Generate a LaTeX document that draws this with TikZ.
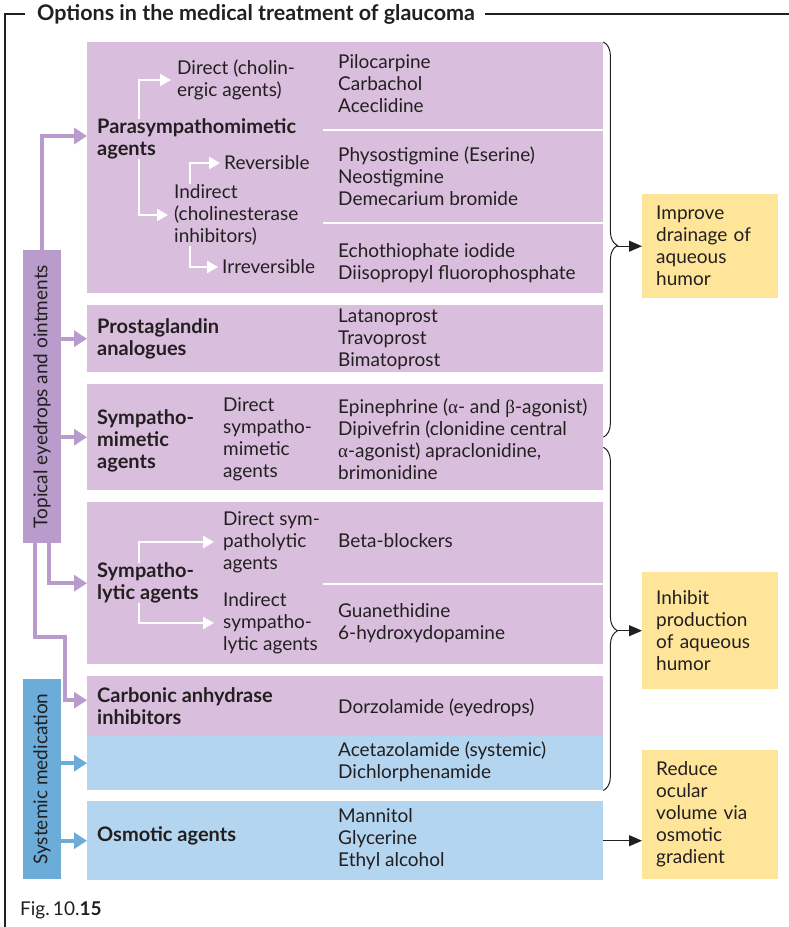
\documentclass[tikz,border=0pt]{standalone}
\usepackage{fontspec}
\setmainfont{Lato}
\newfontfamily\greekfont{Liberation Serif}
\usetikzlibrary{arrows.meta,positioning,decorations.pathreplacing}
\definecolor{glaulilac}{HTML}{D9BFDD}
\definecolor{glaupurple}{HTML}{B99BCC}
\definecolor{glausky}{HTML}{B3D5EF}
\definecolor{glaublue}{HTML}{6BADD8}
\definecolor{glauyellow}{HTML}{FEE59A}
\definecolor{glauink}{HTML}{231F20}
\newcommand{\bodyfont}{\fontsize{19}{22}\selectfont}
\tikzset{
  drugbox/.style={
    rectangle,
    fill=glaulilac,
    anchor=north west,
    inner sep=0pt,
    minimum width=516pt
  },
  sysbox/.style={drugbox, fill=glausky},
  sidebar/.style={rectangle, inner sep=0pt, minimum width=38pt},
  effectbox/.style={
    rectangle,
    fill=glauyellow,
    anchor=north west,
    inner xsep=14pt,
    text width=108pt,
    align=left
  },
  grouplabel/.style={anchor=west, align=left, inner sep=0pt, font=\fontsize{20}{22}\selectfont\bfseries},
  druglist/.style={anchor=west, align=left, inner sep=0pt},
  subarrow/.style={-{Triangle[length=11pt,width=12pt]}, color=white, line width=2.5pt},
  purplearrow/.style={-{Triangle[length=13pt,width=16pt]}, color=glaupurple, line width=4pt},
  bluearrow/.style={purplearrow, color=glaublue},
  effectarrow/.style={-{Triangle[length=13pt,width=11pt]}, color=glauink, line width=1pt},
  groupbrace/.style={decorate, decoration={brace, amplitude=14pt}, color=glauink, line width=1pt},
  sepline/.style={white, line width=2pt},
  framerule/.style={glauink, line width=1.2pt}
}

\begin{document}
\begin{tikzpicture}[x=1pt, y=-1pt, every node/.append style={font=\bodyfont, text=glauink}]
\useasboundingbox (0,0) rectangle (789,927);
% title and frame
\node[anchor=west, inner sep=0pt, font=\fontsize{21.5}{22}\selectfont\bfseries] (title) at (37,14) {Options in the medical treatment of glaucoma};
\draw[framerule] ([xshift=-12pt]title.west) -| (5,927);
\draw[framerule] ([xshift=10pt]title.east) -- (789,14);
\node[druglist, font=\fontsize{19}{22}\selectfont] (figlbl) at (20,910) {Fig.\,10.\textbf{15}};

% drug groups
\node[drugbox, minimum height=251pt] (para) at (87,42) {};
\node[drugbox, minimum height=67pt] (prost) at (87,305) {};
\node[drugbox, minimum height=106pt] (symm) at (87,384) {};
\node[drugbox, minimum height=162pt] (lytic) at (87,502) {};
\node[drugbox, minimum height=60pt] (carb) at (87,676) {};
\node[sysbox, minimum height=54pt] (acet) at (87,736) {};
\node[sysbox, minimum height=79pt] (osmo) at (87,801) {};
\draw[sepline] (323,130) -- (para.east |- 0,130);
\draw[sepline] (323,223) -- (para.east |- 0,223);
\draw[sepline] (323,584) -- (lytic.east |- 0,584);

% side bars
\node[sidebar, fill=glaupurple, minimum height=293pt] (topical) at (42,396.5) {};
\node[rotate=90] (topicaltxt) at (topical) {Topical eyedrops and ointments};
\node[sidebar, fill=glaublue, minimum height=200pt] (systemic) at (42,779) {};
\node[rotate=90] (systemictxt) at (systemic) {Systemic medication};

% parasympathomimetic agents
\node[grouplabel] (paralbl) at (97,139) {Parasympathomimetic\\agents};
\node[druglist] (direct) at (177,80) {Direct (cholin-\\ergic agents)};
\node[druglist] (indirect) at (174,215) {Indirect\\(cholinesterase\\inhibitors)};
\node[druglist] (rev) at (224,163) {Reversible};
\node[druglist] (irrev) at (222,267) {Irreversible};
\node[druglist] (pilo) at (338,84) {Pilocarpine\\Carbachol\\Aceclidine};
\node[druglist] (physo) at (338,176) {Physostigmine (Eserine)\\Neostigmine\\Demecarium bromide};
\node[druglist] (echo) at (338,263) {Echothiophate iodide\\Diisopropyl fluorophosphate};
\draw[subarrow] ([xshift=42pt]paralbl.north west) |- ([xshift=-6pt]direct.west);
\draw[subarrow] ([xshift=42pt]paralbl.south west) |- ([xshift=-6pt]indirect.west);
\draw[subarrow] ([xshift=16pt]indirect.north west) |- ([xshift=-4pt]rev.west);
\draw[subarrow] ([xshift=16pt]indirect.south west) |- ([xshift=-4pt]irrev.west);

% prostaglandins
\node[grouplabel] (prostlbl) at (97,338.5) {Prostaglandin\\analogues};
\node[druglist] (lata) at (338,339) {Latanoprost\\Travoprost\\Bimatoprost};

% sympathomimetic agents
\node[grouplabel] (symmlbl) at (97,441) {Sympatho-\\mimetic\\agents};
\node[druglist] (dsymm) at (223,439) {Direct\\sympatho-\\mimetic\\agents};
\node[druglist] (epi) at (338,439) {Epinephrine ({\greekfont α}- and {\greekfont β}-agonist)\\Dipivefrin (clonidine central\\{\greekfont α}-agonist) apraclonidine,\\brimonidine};

% sympatholytic agents
\node[grouplabel] (lyticlbl) at (97,583) {Sympatho-\\lytic agents};
\node[druglist] (dsym) at (223,542) {Direct sym-\\patholytic\\agents};
\node[druglist] (isym) at (223,623) {Indirect\\sympatho-\\lytic agents};
\node[druglist] (beta) at (338,541) {Beta-blockers};
\node[druglist] (guan) at (338,623) {Guanethidine\\6-hydroxydopamine};
\draw[subarrow] ([xshift=42pt]lyticlbl.north west) |- ([xshift=-9pt]dsym.west);
\draw[subarrow] ([xshift=42pt]lyticlbl.south west) |- ([xshift=-9pt]isym.west);

% carbonic anhydrase inhibitors and osmotic agents
\node[grouplabel] (carblbl) at (97,706) {Carbonic anhydrase\\inhibitors};
\node[druglist] (dorzo) at (338,708) {Dorzolamide (eyedrops)};
\node[druglist] (aceta) at (338,762) {Acetazolamide (systemic)\\Dichlorphenamide};
\node[grouplabel] (osmolbl) at (97,836) {Osmotic agents};
\node[druglist] (manni) at (338,839) {Mannitol\\Glycerine\\Ethyl alcohol};

% effects
\node[effectbox, minimum height=104pt] (improve) at (642,194) {Improve\\drainage of\\aqueous\\humor};
\node[effectbox, minimum height=117pt] (inhibit) at (642,572) {Inhibit\\production\\of aqueous\\humor};
\node[effectbox, minimum height=129pt] (reduce) at (642,750) {Reduce\\ocular\\volume via\\osmotic\\gradient};

% routes
\draw[purplearrow] (topical.north) |- ([yshift=-94pt]para.north west);
\draw[purplearrow] (topical.east |- prost.west) -- (prost.west);
\draw[purplearrow] (topical.east |- symm.west) -- (symm.west);
\draw[purplearrow] ([xshift=7pt]topical.south) |- (lytic.west);
\draw[purplearrow] ([xshift=-7pt]topical.south) -- ++(0,94) -| ([xshift=-22pt,yshift=6pt]carb.west) -- ([yshift=6pt]carb.west);
\draw[bluearrow] (systemic.east |- acet.west) -- (acet.west);
\draw[bluearrow] (systemic.east |- osmo.west) -- (osmo.west);

% braces to effects
\draw[groupbrace, decoration={aspect=0.515}] (para.north east) -- (symm.east);
\draw[groupbrace, decoration={aspect=0.535}] ([yshift=-10pt]symm.east) -- (acet.south east);
\path (para.east |- improve.west) ++(14,0) coordinate (draintip);
\path (para.east |- inhibit.west) ++(14,0) coordinate (prodtip);
\draw[effectarrow] (draintip) -- (improve.west);
\draw[effectarrow] (prodtip) -- (inhibit.west);
\draw[effectarrow] (osmo.east) -- (reduce.west |- osmo.east);
\end{tikzpicture}
\end{document}
